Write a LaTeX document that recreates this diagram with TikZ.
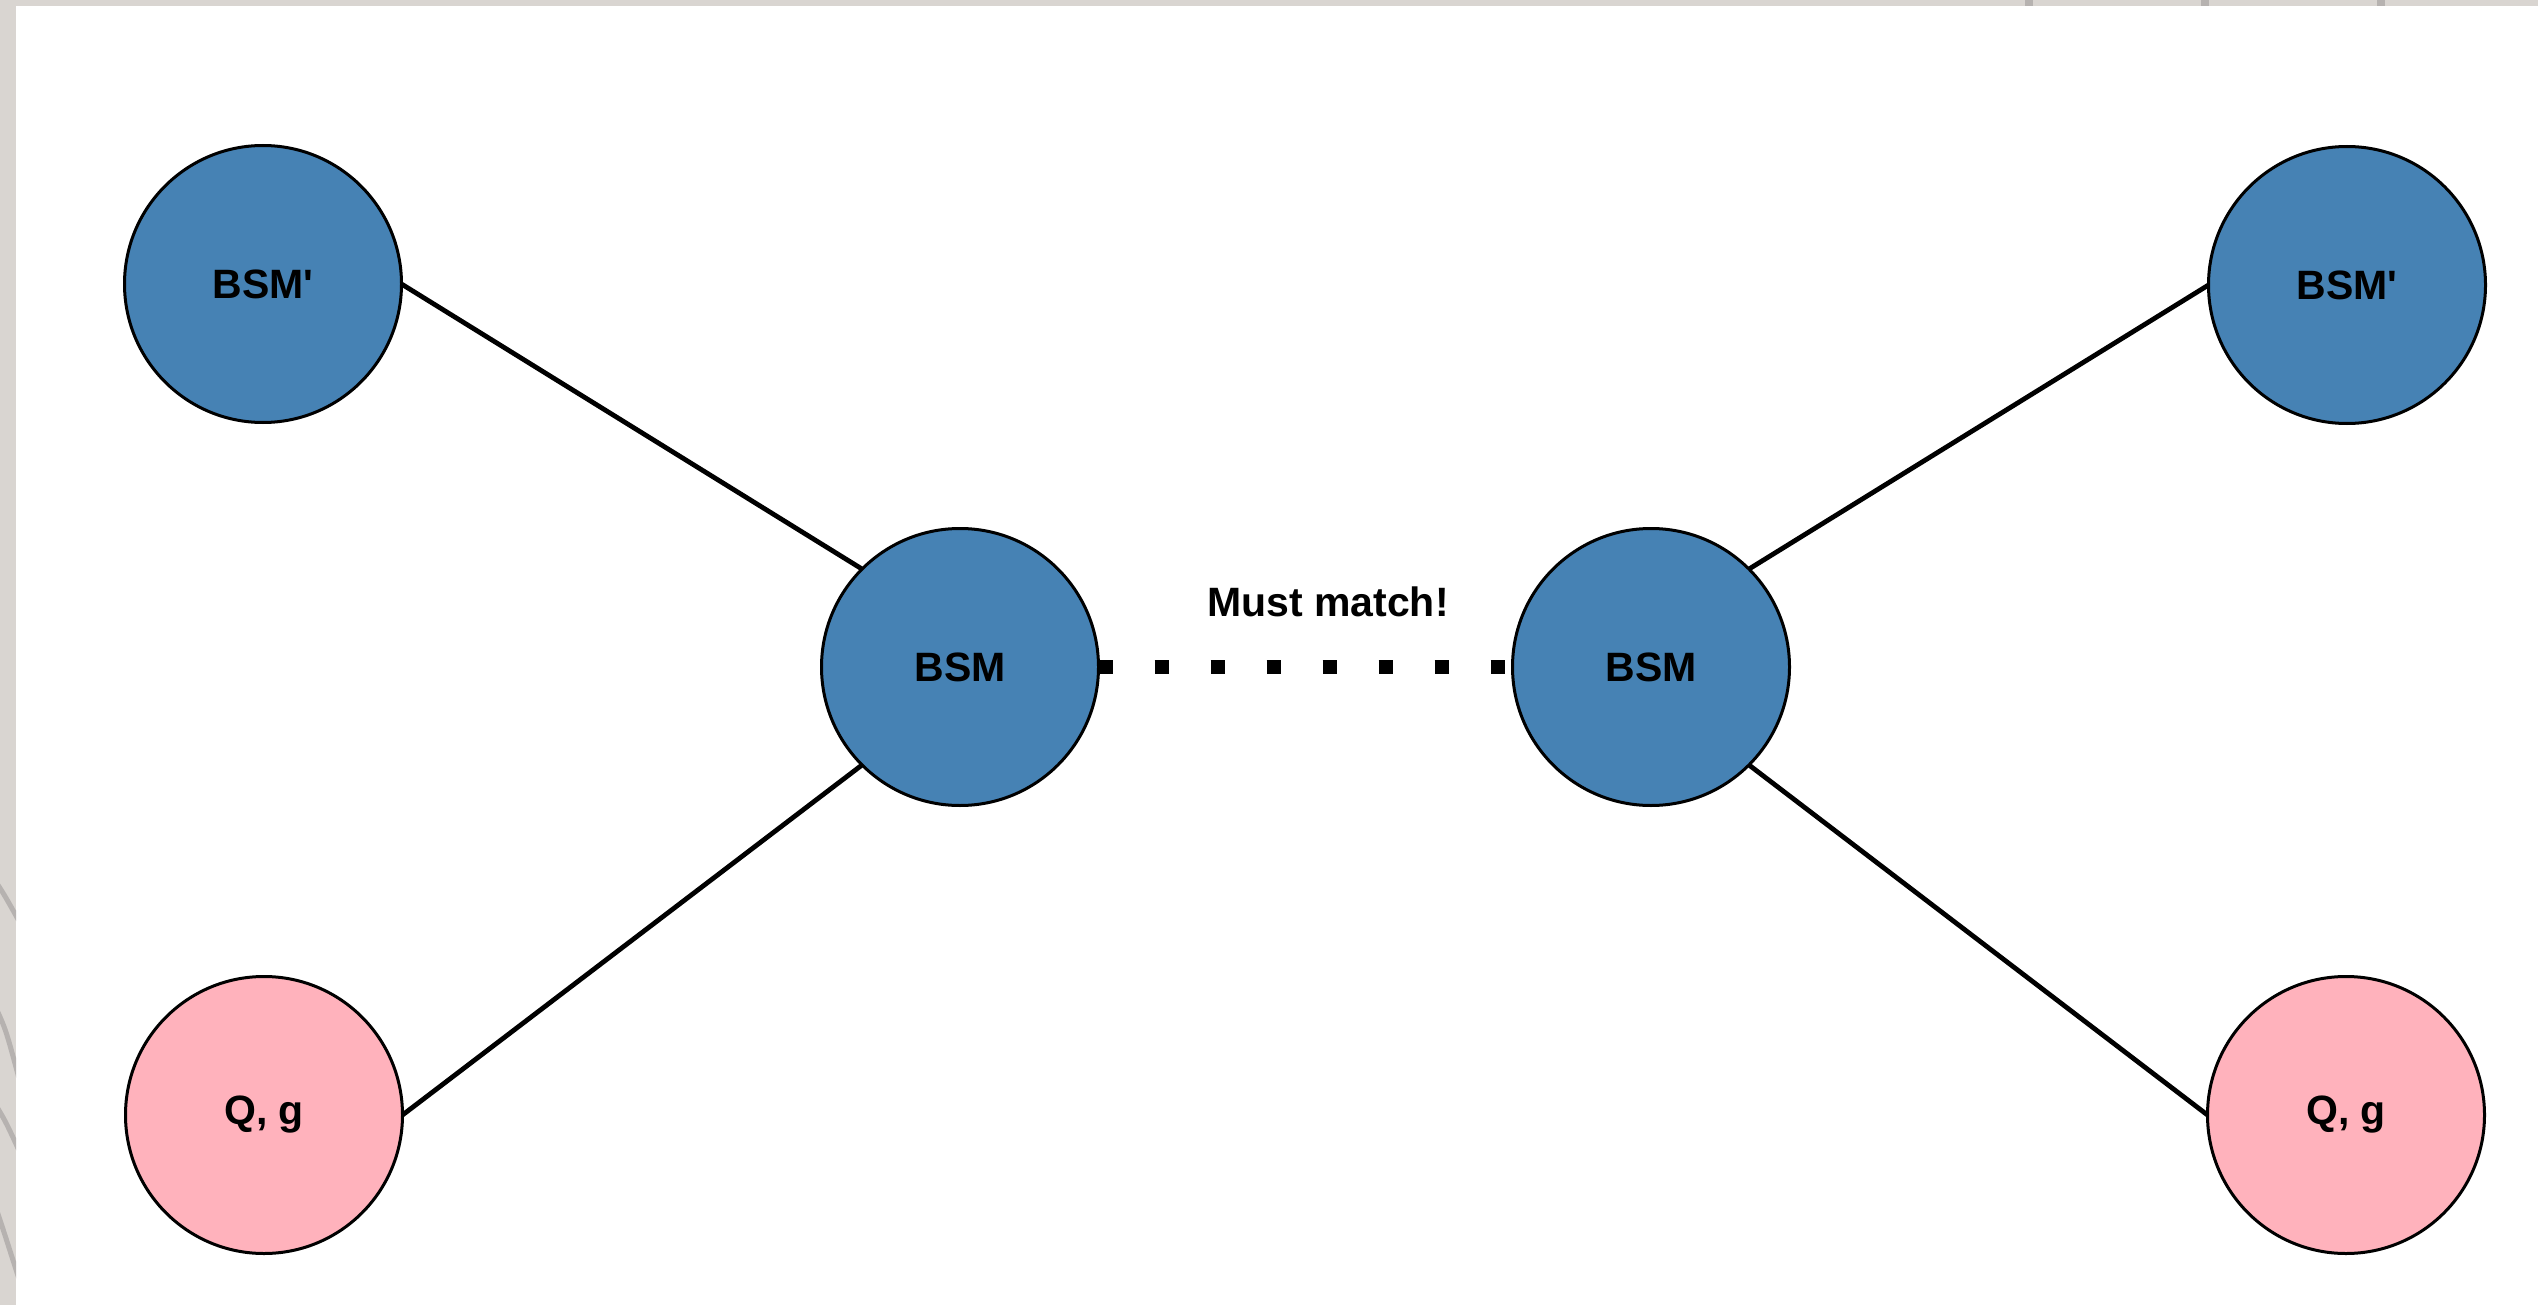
\documentclass[tikz,border=0pt]{standalone}
\usepackage{fontspec}
\setmainfont{Liberation Sans}
\usetikzlibrary{shapes.geometric}

\definecolor{frame}{RGB}{217,213,209}
\definecolor{frameline}{RGB}{182,178,176}
\definecolor{bsmblue}{RGB}{70,130,180}
\definecolor{qgpink}{RGB}{255,178,188}

\tikzset{
  particle/.style={circle, draw=black, line width=1.5pt, minimum size=138.5pt,
    inner sep=0pt, outer sep=0pt, font=\fontsize{20.5}{24}\selectfont\bfseries},
  bsm/.style={particle, fill=bsmblue},
  quark/.style={particle, fill=qgpink},
  link/.style={line width=2.4pt, black},
  matchline/.style={line width=7pt, black, dash pattern=on 7pt off 21pt},
  caption/.style={font=\fontsize{20.5}{24}\selectfont\bfseries, inner sep=0pt}
}

\begin{document}
\begin{tikzpicture}[x=0.5pt, y=-0.5pt]
  % page frame
  \useasboundingbox (0,0) rectangle (2538,1305);
  \fill[frame] (0,0) rectangle (2538,1305);
  \fill[white] (16,6) rectangle (2538,1305);
  % window tab separators along the top edge
  \foreach \sx in {2025,2201,2377}
    \fill[frameline] (\sx,0) rectangle (\sx+8,6);
  % curved strokes in the left margin
  \begin{scope}
    \clip (0,0) rectangle (16,1305);
    \draw[frameline, line width=2.5pt] (-8,876) .. controls (4,894) .. (24,930);
    \draw[frameline, line width=2.5pt] (-4,1008) .. controls (6,1030) .. (20,1082);
    \draw[frameline, line width=2.5pt] (-6,1102) .. controls (6,1122) .. (22,1157);
    \draw[frameline, line width=2.5pt] (-4,1208) .. controls (4,1232) .. (20,1282);
  \end{scope}

  % particles
  \node[bsm]   (bspL) at (263,284)  {BSM\textquotesingle};
  \node[quark] (qgL)  at (264,1115) {Q, g};
  \node[bsm]   (bsmL) at (960,667)  {BSM};
  \node[bsm]   (bsmR) at (1651,667) {BSM};
  \node[bsm]   (bspR) at (2347,285) {BSM\textquotesingle};
  \node[quark] (qgR)  at (2346,1115) {Q, g};

  % couplings
  \draw[link] (bspL.east) -- (bsmL.north west);
  \draw[link] (qgL.east)  -- (bsmL.south west);
  \draw[link] (bsmR.north east) -- (bspR.west);
  \draw[link] (bsmR.south east) -- (qgR.west);

  % matching condition
  \draw[matchline] (bsmL.east) -- (bsmR.west);
  \node[caption] (must) at (1328,602) {Must match!};
\end{tikzpicture}
\end{document}
